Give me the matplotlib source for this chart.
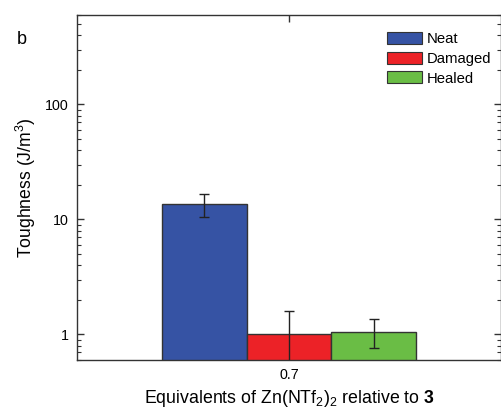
import matplotlib
matplotlib.use("Agg")
import matplotlib.pyplot as plt
from matplotlib.patches import Patch
from matplotlib.ticker import LogLocator, NullFormatter, FixedLocator

plt.rcParams['font.family'] = ['Liberation Sans', 'DejaVu Sans']
plt.rcParams['mathtext.fontset'] = 'custom'
plt.rcParams['mathtext.rm'] = 'Liberation Sans'
plt.rcParams['mathtext.it'] = 'Liberation Sans:italic'
plt.rcParams['mathtext.bf'] = 'Liberation Sans:bold'

groups = [0.7]
series = ["Neat", "Damaged", "Healed"]
values = [13.6, 1.0, 1.06]
errors = [3.0, 0.6, 0.3]
colors = ["#3653a4", "#ec2227", "#6abd45"]

fig = plt.figure(figsize=(5.02, 4.12), dpi=100)
ax = fig.add_axes([77/502, 52/412, 424/502, 345/412])

w = 0.2
for i, (name, v, e, c) in enumerate(zip(series, values, errors, colors)):
    x = groups[0] + (i - 1) * w
    ax.bar(x, v, width=w, color=c, edgecolor="#333333", linewidth=1.0, label=name, zorder=2)
    ax.errorbar(x, v, yerr=e, fmt='none', ecolor='#222222', elinewidth=1.0,
                capsize=3.5, capthick=1.0, zorder=3)

ax.set_yscale('log')
ax.set_ylim(0.6, 600)
ax.set_xlim(groups[0] - 0.5, groups[0] + 0.5)
ax.set_xticks(groups)
ax.set_xticklabels([str(g) for g in groups])
ax.yaxis.set_major_locator(FixedLocator([1, 10, 100]))
ax.set_yticklabels(["1", "10", "100"])
ax.yaxis.set_minor_locator(LogLocator(base=10, subs=range(2, 10)))
ax.yaxis.set_minor_formatter(NullFormatter())

ax.tick_params(axis='both', which='major', direction='in', length=5, width=1,
               top=True, right=True, labelsize=10.3, color='#333333', pad=6)
ax.tick_params(axis='y', which='minor', direction='in', length=3, width=0.8,
               right=True, color='#333333')
for s in ax.spines.values():
    s.set_linewidth(1.0)
    s.set_color('#333333')

ax.set_ylabel("Toughness (J/m$^3$)", fontsize=12.7, labelpad=5)
ax.set_xlabel(r"Equivalents of Zn(NTf$_2$)$_2$ relative to $\mathbf{3}$", fontsize=12.8, labelpad=4)

handles = [Patch(facecolor=c, edgecolor="#333333", linewidth=0.8) for c in colors]
ax.legend(handles, series, loc='upper left', frameon=False, fontsize=10.7,
          handlelength=2.35, handleheight=0.85, handletextpad=0.3, labelspacing=0.38,
          borderpad=0, borderaxespad=0,
          bbox_to_anchor=(387/502, 1 - 32/412), bbox_transform=fig.transFigure)

fig.text(17/502, 1 - 40/412, "b", fontsize=13, va='center', ha='left')

fig.savefig("out.png", dpi=100)
